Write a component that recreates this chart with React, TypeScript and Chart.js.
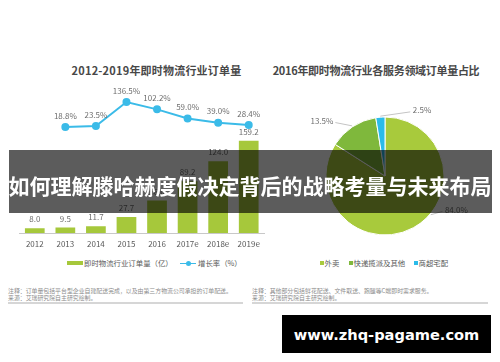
import React, { useEffect, useRef } from 'react';
import { Chart, registerables } from 'chart.js';

Chart.register(...registerables);

const FONT = '"Noto Sans CJK SC", "Noto Sans", sans-serif';

// ---------- data ----------
const years = ['2012', '2013', '2014', '2015', '2016', '2017e', '2018e', '2019e'];
const orderVolume = [8.0, 9.5, 11.7, 27.7, 56.0, 89.2, 124.0, 159.2];
const growthRate: (number | null)[] = [null, 18.8, 23.5, 136.5, 102.2, 59.0, 39.0, 28.4];
const barAxisRange = [0, 247];
const lineAxisRange = [-481, 193.5];

const pieLabels = ['外卖', '快递揽派及其他', '商超宅配'];
const pieShares = [84.0, 13.5, 2.5];

const leftTitle = '2012-2019年即时物流行业订单量';
const rightTitle = '2016年即时物流行业各服务领域订单量占比';
const barLegend = '即时物流行业订单量（亿）';
const lineLegend = '增长率（%）';
const leftNotes = ['注释：订单量包括平台型企业自建配送完成，以及由第三方物流公司承担的订单配送。', '来源：艾瑞研究院自主研究绘制。'];
const rightNotes = ['注释：其他部分包括鲜花配送、文件取送、跑腿等C端即时需求服务。', '来源：艾瑞研究院自主研究绘制。'];
const bannerText = '如何理解滕哈赫度假决定背后的战略考量与未来布局';
const watermark = 'www.zhq-pagame.com';

// ---------- styles ----------
const BAR_COLOR = '#a6c83b';
const LINE_COLOR = '#3bbbe8';
const PIE_COLORS = ['#a8ca3c', '#7fb83c', '#2bbbe9'];
const LABEL_COLOR = '#6e6e6e';
const leaderStyle = [
  { shift: -21, dx: 11.6, dy: -3.3, align: 'left', gap: 2.5 },
  { shift: 0, dx: -16.7, dy: -3.3, align: 'right', gap: -2 },
  { shift: 0, dx: 30, dy: -4.3, align: 'left', gap: 2.5 },
];

const comboLabels = {
  id: 'comboLabels',
  afterDatasetsDraw(chart: any) {
    const ctx = chart.ctx;
    ctx.save();
    ctx.font = `8px ${FONT}`;
    ctx.textAlign = 'center';
    ctx.textBaseline = 'middle';
    ctx.fillStyle = LABEL_COLOR;
    chart.getDatasetMeta(0).data.forEach((el: any, i: number) => {
      ctx.fillText(orderVolume[i].toFixed(1), el.x, el.y - 9);
    });
    chart.getDatasetMeta(1).data.forEach((el: any, i: number) => {
      const v = growthRate[i];
      if (v == null) return;
      ctx.fillText(v.toFixed(1) + '%', el.x, el.y - 11.5);
    });
    ctx.restore();
  },
};

const pieLeaders = {
  id: 'pieLeaders',
  afterDatasetsDraw(chart: any) {
    const ctx = chart.ctx;
    ctx.save();
    ctx.font = `8px ${FONT}`;
    ctx.textBaseline = 'middle';
    chart.getDatasetMeta(0).data.forEach((arc: any, i: number) => {
      const s = leaderStyle[i];
      const mid = (arc.startAngle + arc.endAngle) / 2 + (s.shift * Math.PI) / 180;
      const r = arc.outerRadius + 1;
      const ax = arc.x + Math.cos(mid) * r;
      const ay = arc.y + Math.sin(mid) * r;
      const ex = ax + s.dx;
      const ey = ay + s.dy;
      ctx.strokeStyle = '#c4c4c4';
      ctx.lineWidth = 1;
      ctx.beginPath();
      ctx.moveTo(ax, ay);
      ctx.lineTo(ex, ey);
      ctx.stroke();
      ctx.fillStyle = LABEL_COLOR;
      ctx.textAlign = s.align;
      ctx.fillText(pieShares[i].toFixed(1) + '%', ex + s.gap, ey - 1.5);
    });
    ctx.restore();
  },
};

function ComboChart() {
  const ref = useRef<HTMLCanvasElement>(null);
  useEffect(() => {
    const chart = new Chart(ref.current!, {
      type: 'bar',
      data: {
        labels: years,
        datasets: [
          {
            type: 'bar',
            label: barLegend,
            data: orderVolume,
            backgroundColor: BAR_COLOR,
            barPercentage: 0.645,
            categoryPercentage: 1,
            yAxisID: 'y',
            order: 2,
          } as any,
          {
            type: 'line',
            label: lineLegend,
            data: growthRate,
            borderColor: LINE_COLOR,
            backgroundColor: LINE_COLOR,
            pointBackgroundColor: LINE_COLOR,
            pointBorderColor: LINE_COLOR,
            pointRadius: 3,
            borderWidth: 2,
            tension: 0,
            yAxisID: 'y1',
            order: 1,
          } as any,
        ],
      },
      options: {
        responsive: false,
        animation: false,
        layout: { padding: { left: 19.5, right: 2.5, top: 10, bottom: 2 } },
        plugins: { legend: { display: false }, tooltip: { enabled: false }, title: { display: false } },
        scales: {
          x: {
            grid: { display: false, drawTicks: false },
            border: { display: true, color: '#c8c8c8', width: 1 },
            ticks: { color: '#595959', font: { family: FONT, size: 8 }, padding: 6, maxRotation: 0 },
            afterFit: (scale: any) => {
              scale.height = 20;
            },
          },
          y: { display: false, min: barAxisRange[0], max: barAxisRange[1] },
          y1: { display: false, min: lineAxisRange[0], max: lineAxisRange[1] },
        },
      },
      plugins: [comboLabels],
    });
    return () => chart.destroy();
  }, []);
  return (
    <canvas
      ref={ref}
      width={270}
      height={175}
      style={{ position: 'absolute', left: 0, top: 80, width: 270, height: 175 }}
    />
  );
}

function PieChart() {
  const ref = useRef<HTMLCanvasElement>(null);
  useEffect(() => {
    const chart = new Chart(ref.current!, {
      type: 'pie',
      data: {
        labels: pieLabels,
        datasets: [{ data: pieShares, backgroundColor: PIE_COLORS, borderColor: '#ffffff', borderWidth: 1 }],
      },
      options: {
        responsive: false,
        animation: false,
        layout: { padding: { left: 35.5, right: 35.5, top: 21.5, bottom: 4.5 } },
        plugins: { legend: { display: false }, tooltip: { enabled: false } },
      },
      plugins: [pieLeaders],
    });
    return () => chart.destroy();
  }, []);
  return (
    <canvas
      ref={ref}
      width={190}
      height={145}
      style={{ position: 'absolute', left: 290, top: 95, width: 190, height: 145 }}
    />
  );
}

const abs = (o: React.CSSProperties): React.CSSProperties => ({ position: 'absolute', whiteSpace: 'nowrap', ...o });

export default function App() {
  useEffect(() => {
    document.body.style.margin = '0';
  }, []);
  const legendText: React.CSSProperties = { fontSize: 7.4, lineHeight: '10px', color: '#595959', fontFamily: FONT };
  const noteText: React.CSSProperties = { fontSize: 5.9, lineHeight: '7px', color: '#8c8c8c', fontFamily: FONT };
  return (
    <div
      style={{
        position: 'absolute',
        left: 0,
        top: 0,
        width: 500,
        height: 362,
        background: '#ffffff',
        overflow: 'hidden',
        fontFamily: FONT,
      }}
    >
      <div style={abs({ left: 0, width: 313, top: 62, lineHeight: '16px', textAlign: 'center', fontSize: 11, fontWeight: 700, color: '#484848', letterSpacing: 0.2 })}>
        {leftTitle}
      </div>
      <div style={abs({ left: 260, width: 232, top: 62, lineHeight: '16px', textAlign: 'center', fontSize: 11, fontWeight: 700, color: '#484848', letterSpacing: -0.3 })}>
        {rightTitle}
      </div>

      <ComboChart />
      <PieChart />

      {/* left legend */}
      <div style={abs({ left: 67, top: 261, width: 16, height: 4, background: BAR_COLOR })} />
      <div style={abs({ left: 84, top: 258, ...legendText })}>{barLegend}</div>
      <div style={abs({ left: 180, top: 262.5, width: 16, height: 1.5, background: LINE_COLOR })} />
      <div style={abs({ left: 185.5, top: 260.5, width: 5, height: 5, borderRadius: 3, background: LINE_COLOR })} />
      <div style={abs({ left: 198, top: 258, ...legendText })}>{lineLegend}</div>

      {/* right legend */}
      {pieLabels.map((lab, i) => {
        const sq = [320, 349, 414][i];
        return (
          <React.Fragment key={lab}>
            <div style={abs({ left: sq, top: 261.2, width: 3.8, height: 3.8, background: PIE_COLORS[i] })} />
            <div style={abs({ left: sq + 4.5, top: 258, ...legendText })}>{lab}</div>
          </React.Fragment>
        );
      })}

      {/* notes */}
      {leftNotes.map((t, i) => (
        <div key={'l' + i} style={abs({ left: 8, top: 287 + i * 7.3, ...noteText })}>{t}</div>
      ))}
      {rightNotes.map((t, i) => (
        <div key={'r' + i} style={abs({ left: 252, top: 287 + i * 7.3, ...noteText })}>{t}</div>
      ))}
      <div style={abs({ left: 8, top: 302, width: 235, height: 2, background: '#d6d6d6' })} />
      <div style={abs({ left: 252, top: 302, width: 236, height: 2, background: '#d6d6d6' })} />

      {/* banner */}
      <div style={abs({ left: 9, top: 150, width: 483, height: 63, background: 'rgba(0,0,0,0.64)' })} />
      <div
        style={abs({
          left: 0,
          width: 500,
          top: 170,
          lineHeight: '30px',
          textAlign: 'center',
          fontSize: 21,
          fontWeight: 700,
          color: '#ffffff',
          letterSpacing: 0,
        })}
      >
        {bannerText}
      </div>

      {/* watermark */}
      <div style={abs({ left: 282, top: 315, width: 209, height: 38, background: '#000000' })} />
      <div
        style={abs({
          left: 282,
          width: 209,
          top: 325,
          lineHeight: '20px',
          textAlign: 'center',
          fontSize: 14.6,
          fontWeight: 700,
          color: '#ffffff',
          fontFamily: '"DejaVu Sans", sans-serif',
        })}
      >
        {watermark}
      </div>
    </div>
  );
}
